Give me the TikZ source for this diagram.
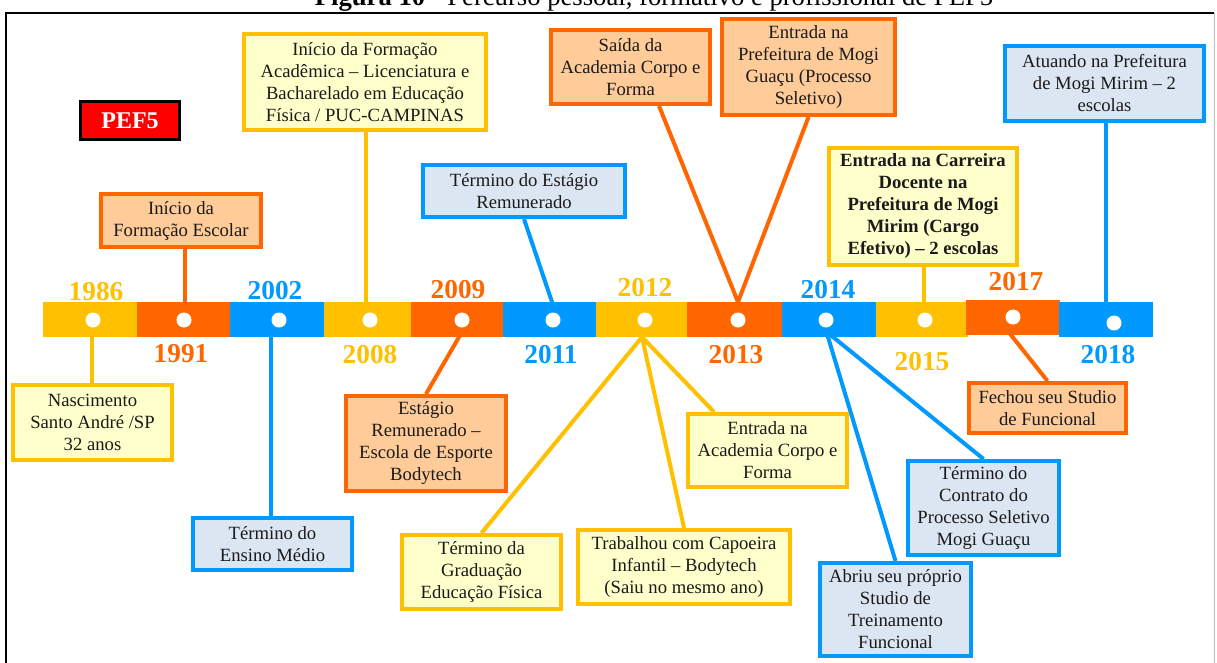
\documentclass[tikz,border=0pt]{standalone}
\usepackage{fontspec}
\setmainfont{Liberation Serif}
\usetikzlibrary{shadows}

\definecolor{cY}{HTML}{FFC000}
\definecolor{cO}{HTML}{FF6600}
\definecolor{cB}{HTML}{0099FF}
\definecolor{fY}{HTML}{FFFFCC}
\definecolor{fO}{HTML}{FFCC99}
\definecolor{fB}{HTML}{DCE6F2}
\definecolor{txt}{HTML}{1A1A1A}

\newcommand\boxfont{\fontsize{14}{16.5}\selectfont}
\newcommand\yearfont{\fontsize{20.5}{24}\selectfont\bfseries}

\pgfdeclarelayer{paper}
\pgfdeclarelayer{links}
\pgfsetlayers{paper,links,main}

\tikzset{
  evbox/.style={rectangle, line width=3pt, align=center, text=txt, font=\boxfont,
    inner sep=2pt, drop shadow={shadow xshift=1.5pt, shadow yshift=-1.5pt, opacity=0.25}},
  ybox/.style={evbox, draw=cY, fill=fY},
  obox/.style={evbox, draw=cO, fill=fO},
  bbox/.style={evbox, draw=cB, fill=fB},
  barpart/.style={rectangle, inner sep=0pt, draw=none},
  yeardot/.style={circle, fill=white, inner sep=0pt, minimum size=11.25pt},
  yearlabel/.style={font=\yearfont, inner sep=0pt},
  joinline/.style={line width=3pt, shorten >=-3pt},
}

% event box: style, name, left, top, right, bottom (pixel units), text
\newcommand\evnode[7]{%
  \pgfmathsetmacro\evw{(#5-#3-4)*0.75}%
  \pgfmathsetmacro\evh{(#6-#4-4)*0.75}%
  \node[#1, minimum width=\evw pt, minimum height=\evh pt] (#2) at ({(#3+#5)/2},{(#4+#6)/2}) {#7};}

% timeline piece: name, left, right, top, bottom, colour
\newcommand\barpiece[6]{%
  \pgfmathsetmacro\evw{(#3-#2)*0.75}%
  \pgfmathsetmacro\evh{(#5-#4)*0.75}%
  \node[barpart, fill=#6, minimum width=\evw pt, minimum height=\evh pt] (#1) at ({(#2+#3)/2},{(#4+#5)/2}) {};}

\begin{document}
\begin{tikzpicture}[x=0.75pt, y=-0.75pt]
\useasboundingbox (0,0) rectangle (1217,662);
\clip (0,0) rectangle (1217,662);
\begin{pgfonlayer}{paper}
\fill[white] (0,0) rectangle (1217,662);
\end{pgfonlayer}

% caption line and frame
\node[anchor=base, inner sep=0pt, font=\fontsize{20}{24}\selectfont] (title) at (654,5)
  {\textbf{Figura 10} - Percurso pessoal, formativo e profissional de PEF5};
\draw[line width=1.5pt] (6,700) -- (6,13) -- (1214,13);
\draw[line width=0.75pt, black!25] (1214,13) -- (1214,700);

% timeline
\barpiece{s1986}{43}{137.5}{302}{337}{cY}
\barpiece{s1991}{137}{230.5}{302}{337}{cO}
\barpiece{s2002}{230}{324.5}{302}{337}{cB}
\barpiece{s2008}{324}{411.5}{302}{337}{cY}
\barpiece{s2009}{411}{503.5}{302}{337}{cO}
\barpiece{s2011}{503}{596.5}{302}{337}{cB}
\barpiece{s2012}{596}{687.5}{302}{337}{cY}
\barpiece{s2013}{687}{782.5}{302}{337}{cO}
\barpiece{s2014}{782}{876.5}{302}{337}{cB}
\barpiece{s2015}{876}{968}{302}{337}{cY}
\barpiece{s2017}{966}{1059.5}{300}{335}{cO}
\barpiece{s2018}{1059}{1153}{302}{337}{cB}

\node[yeardot] (d1986) at (93,320) {};
\node[yeardot] (d1991) at (184,320) {};
\node[yeardot] (d2002) at (279,320) {};
\node[yeardot] (d2008) at (370,320) {};
\node[yeardot] (d2009) at (462,320) {};
\node[yeardot] (d2011) at (553,320) {};
\node[yeardot] (d2012) at (645,320) {};
\node[yeardot] (d2013) at (738,320) {};
\node[yeardot] (d2014) at (826,320) {};
\node[yeardot] (d2015) at (925,320) {};
\node[yeardot] (d2017) at (1013,317) {};
\node[yeardot] (d2018) at (1114,323) {};

\node[yearlabel, text=cY] (y1986) at (96,292) {1986};
\node[yearlabel, text=cO] (y1991) at (181,354) {1991};
\node[yearlabel, text=cB] (y2002) at (275,291) {2002};
\node[yearlabel, text=cY] (y2008) at (370,355) {2008};
\node[yearlabel, text=cO] (y2009) at (458,290) {2009};
\node[yearlabel, text=cB] (y2011) at (551,355) {2011};
\node[yearlabel, text=cY] (y2012) at (645,288) {2012};
\node[yearlabel, text=cO] (y2013) at (736,355) {2013};
\node[yearlabel, text=cB] (y2014) at (828,290) {2014};
\node[yearlabel, text=cY] (y2015) at (922,362) {2015};
\node[yearlabel, text=cO] (y2017) at (1016,282) {2017};
\node[yearlabel, text=cB] (y2018) at (1108,355) {2018};

% attachment points on the timeline
\coordinate (a1991) at (185,302);
\coordinate (a2008) at (366,302);
\coordinate (a2011) at (552,302);
\coordinate (a2013) at (738,302);
\coordinate (a2015) at (924,302);
\coordinate (a2018) at (1106,302);
\coordinate (u1986) at (92,337);
\coordinate (u2002) at (271,337);
\coordinate (u2009) at (459,337);
\coordinate (u2012) at (642,337);
\coordinate (u2014a) at (828,337);
\coordinate (u2014b) at (833,337);
\coordinate (u2017) at (1011,335);

% label
\node[rectangle, fill=red, draw=black, line width=2.25pt, text=white, inner sep=0pt,
  font=\fontsize{18}{20}\selectfont\bfseries, minimum width=74pt, minimum height=29pt]
  (pef) at (130,120.5) {PEF5};

% events above the timeline
\evnode{obox}{bEscolar}{99}{192}{263}{249}{Início da\\Formação Escolar}
\evnode{ybox}{bAcad}{242}{32}{488}{132}{Início da Formação\\Acadêmica – Licenciatura e\\Bacharelado em Educação\\Física / PUC-CAMPINAS}
\evnode{bbox}{bEstagioFim}{421}{163}{627}{219}{Término do Estágio\\Remunerado}
\evnode{obox}{bSaida}{549}{28}{712}{106}{Saída da\\Academia Corpo e\\Forma}
\evnode{obox}{bGuacu}{720}{17}{897}{117}{Entrada na\\Prefeitura de Mogi\\Guaçu (Processo\\Seletivo)}
\evnode{ybox, font=\boxfont\bfseries}{bCarreira}{827}{146}{1019}{267}{Entrada na Carreira\\Docente na\\Prefeitura de Mogi\\Mirim (Cargo\\Efetivo) – 2 escolas}
\evnode{bbox}{bAtuando}{1003}{44}{1206}{123}{Atuando na Prefeitura\\de Mogi Mirim – 2\\escolas}

% events below the timeline
\evnode{ybox}{bNasc}{11}{383}{174}{462}{Nascimento\\Santo André /SP\\32 anos}
\evnode{bbox}{bMedio}{191}{516}{354}{572}{Término do\\Ensino Médio}
\evnode{obox}{bEstagio}{344}{394}{508}{493}{Estágio\\Remunerado –\\Escola de Esporte\\Bodytech}
\evnode{ybox}{bGrad}{400}{533}{563}{611}{Término da\\Graduação\\Educação Física}
\evnode{ybox}{bAcadCF}{686}{412}{849}{489}{Entrada na\\Academia Corpo e\\Forma}
\evnode{ybox}{bCapo}{576}{528}{792}{606}{Trabalhou com Capoeira\\Infantil – Bodytech\\(Saiu no mesmo ano)}
\evnode{obox}{bFechou}{967}{381}{1128}{435}{Fechou seu Studio\\de Funcional}
\evnode{bbox}{bContrato}{906}{459}{1061}{557}{Término do\\Contrato do\\Processo Seletivo\\Mogi Guaçu}
\evnode{bbox}{bAbriu}{818}{561}{973}{658}{Abriu seu próprio\\Studio de\\Treinamento\\Funcional}

% connectors, drawn behind boxes and timeline
\begin{pgfonlayer}{links}
\draw[joinline, cO] (bEscolar.south -| a1991) -- (a1991);
\draw[joinline, cY] (bAcad.south -| a2008) -- (a2008);
\draw[joinline, cB] (bEstagioFim.south) -- (a2011);
\draw[joinline, cO] ([xshift=21.4pt]bSaida.south) -- (a2013);
\draw[joinline, cO] (bGuacu.south) -- (a2013);
\draw[joinline, cY] (bCarreira.south -| a2015) -- (a2015);
\draw[joinline, cB] (bAtuando.south -| a2018) -- (a2018);
\draw[joinline, cY] (bNasc.north -| u1986) -- (u1986);
\draw[joinline, cB] (bMedio.north -| u2002) -- (u2002);
\draw[joinline, cO] (bEstagio.north) -- (u2009);
\draw[joinline, cY] (bGrad.north) -- (u2012);
\draw[joinline, cY] (bCapo.north) -- (u2012);
\draw[joinline, cY] ([xshift=-40.1pt]bAcadCF.north) -- (u2012);
\draw[joinline, cB] (bAbriu.north) -- (u2014a);
\draw[joinline, cB] (bContrato.north) -- (u2014b);
\draw[joinline, cO] (bFechou.north) -- (u2017);
\end{pgfonlayer}
\end{tikzpicture}
\end{document}
